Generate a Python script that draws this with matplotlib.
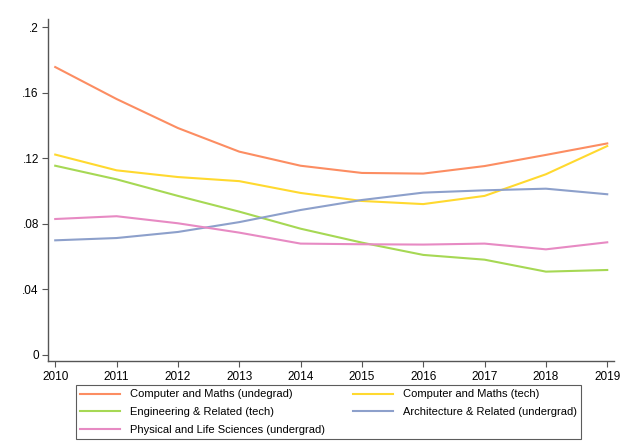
import matplotlib
matplotlib.use("Agg")
import matplotlib.pyplot as plt

plt.rcParams['font.family'] = ['Liberation Sans', 'DejaVu Sans']

years = [2010, 2011, 2012, 2013, 2014, 2015, 2016, 2017, 2018, 2019]
cm_undergrad = [0.1756, 0.1561, 0.1384, 0.1240, 0.1154, 0.1110, 0.1106, 0.1152, 0.1220, 0.1290]
cm_tech = [0.1222, 0.1126, 0.1085, 0.1060, 0.0988, 0.0939, 0.0920, 0.0970, 0.1102, 0.1274]
eng_tech = [0.1154, 0.1071, 0.0970, 0.0874, 0.0770, 0.0685, 0.0610, 0.0581, 0.0508, 0.0518]
arch_undergrad = [0.0699, 0.0713, 0.0750, 0.0810, 0.0884, 0.0945, 0.0990, 0.1004, 0.1014, 0.0980]
phys_undergrad = [0.0829, 0.0846, 0.0803, 0.0746, 0.0679, 0.0675, 0.0673, 0.0679, 0.0644, 0.0687]

labels = ["Computer and Maths (undegrad)", "Computer and Maths (tech)",
          "Engineering & Related (tech)", "Architecture & Related (undergrad)",
          "Physical and Life Sciences (undergrad)"]
series = [cm_undergrad, cm_tech, eng_tech, arch_undergrad, phys_undergrad]
colors = ["#FC8D62", "#FFD92F", "#A6D854", "#8DA0CB", "#E78AC3"]

yticks = [0, 0.04, 0.08, 0.12, 0.16, 0.2]
yticklabels = ["0", ".04", ".08", ".12", ".16", ".2"]

fig = plt.figure(figsize=(6.32, 4.42), dpi=100)
ax = fig.add_axes([0.0767, 0.1833, 0.8948, 0.7737])
handles = []
for vals, lab, c in zip(series, labels, colors):
    h, = ax.plot(years, vals, color=c, lw=1.5, label=lab)
    handles.append(h)

ax.set_xlim(2009.89, 2019.11)
ax.set_ylim(-0.0037, 0.2049)
ax.set_xticks(years)
ax.set_xticklabels([str(y) for y in years], fontsize=8.5)
ax.set_yticks(yticks)
ax.set_yticklabels(yticklabels, fontsize=8.5)
ax.tick_params(direction='out', length=4, width=0.8, color='#555555', pad=3)
for s in ['top', 'right']:
    ax.spines[s].set_visible(False)
for s in ['left', 'bottom']:
    ax.spines[s].set_color('#555555')
    ax.spines[s].set_linewidth(1.0)

order = [0, 2, 4, 1, 3]
leg = fig.legend([handles[i] for i in order], [labels[i] for i in order],
                 ncol=2, loc='upper left', bbox_to_anchor=(76 / 632, 1 - 385 / 442),
                 fontsize=8, frameon=True, fancybox=False,
                 edgecolor='#333333', handlelength=3.6, handletextpad=0.9,
                 columnspacing=2.45, borderpad=0.4, labelspacing=0.68,
                 borderaxespad=0)
leg.get_frame().set_linewidth(0.8)

fig.savefig("out.png", dpi=100, facecolor='white')
